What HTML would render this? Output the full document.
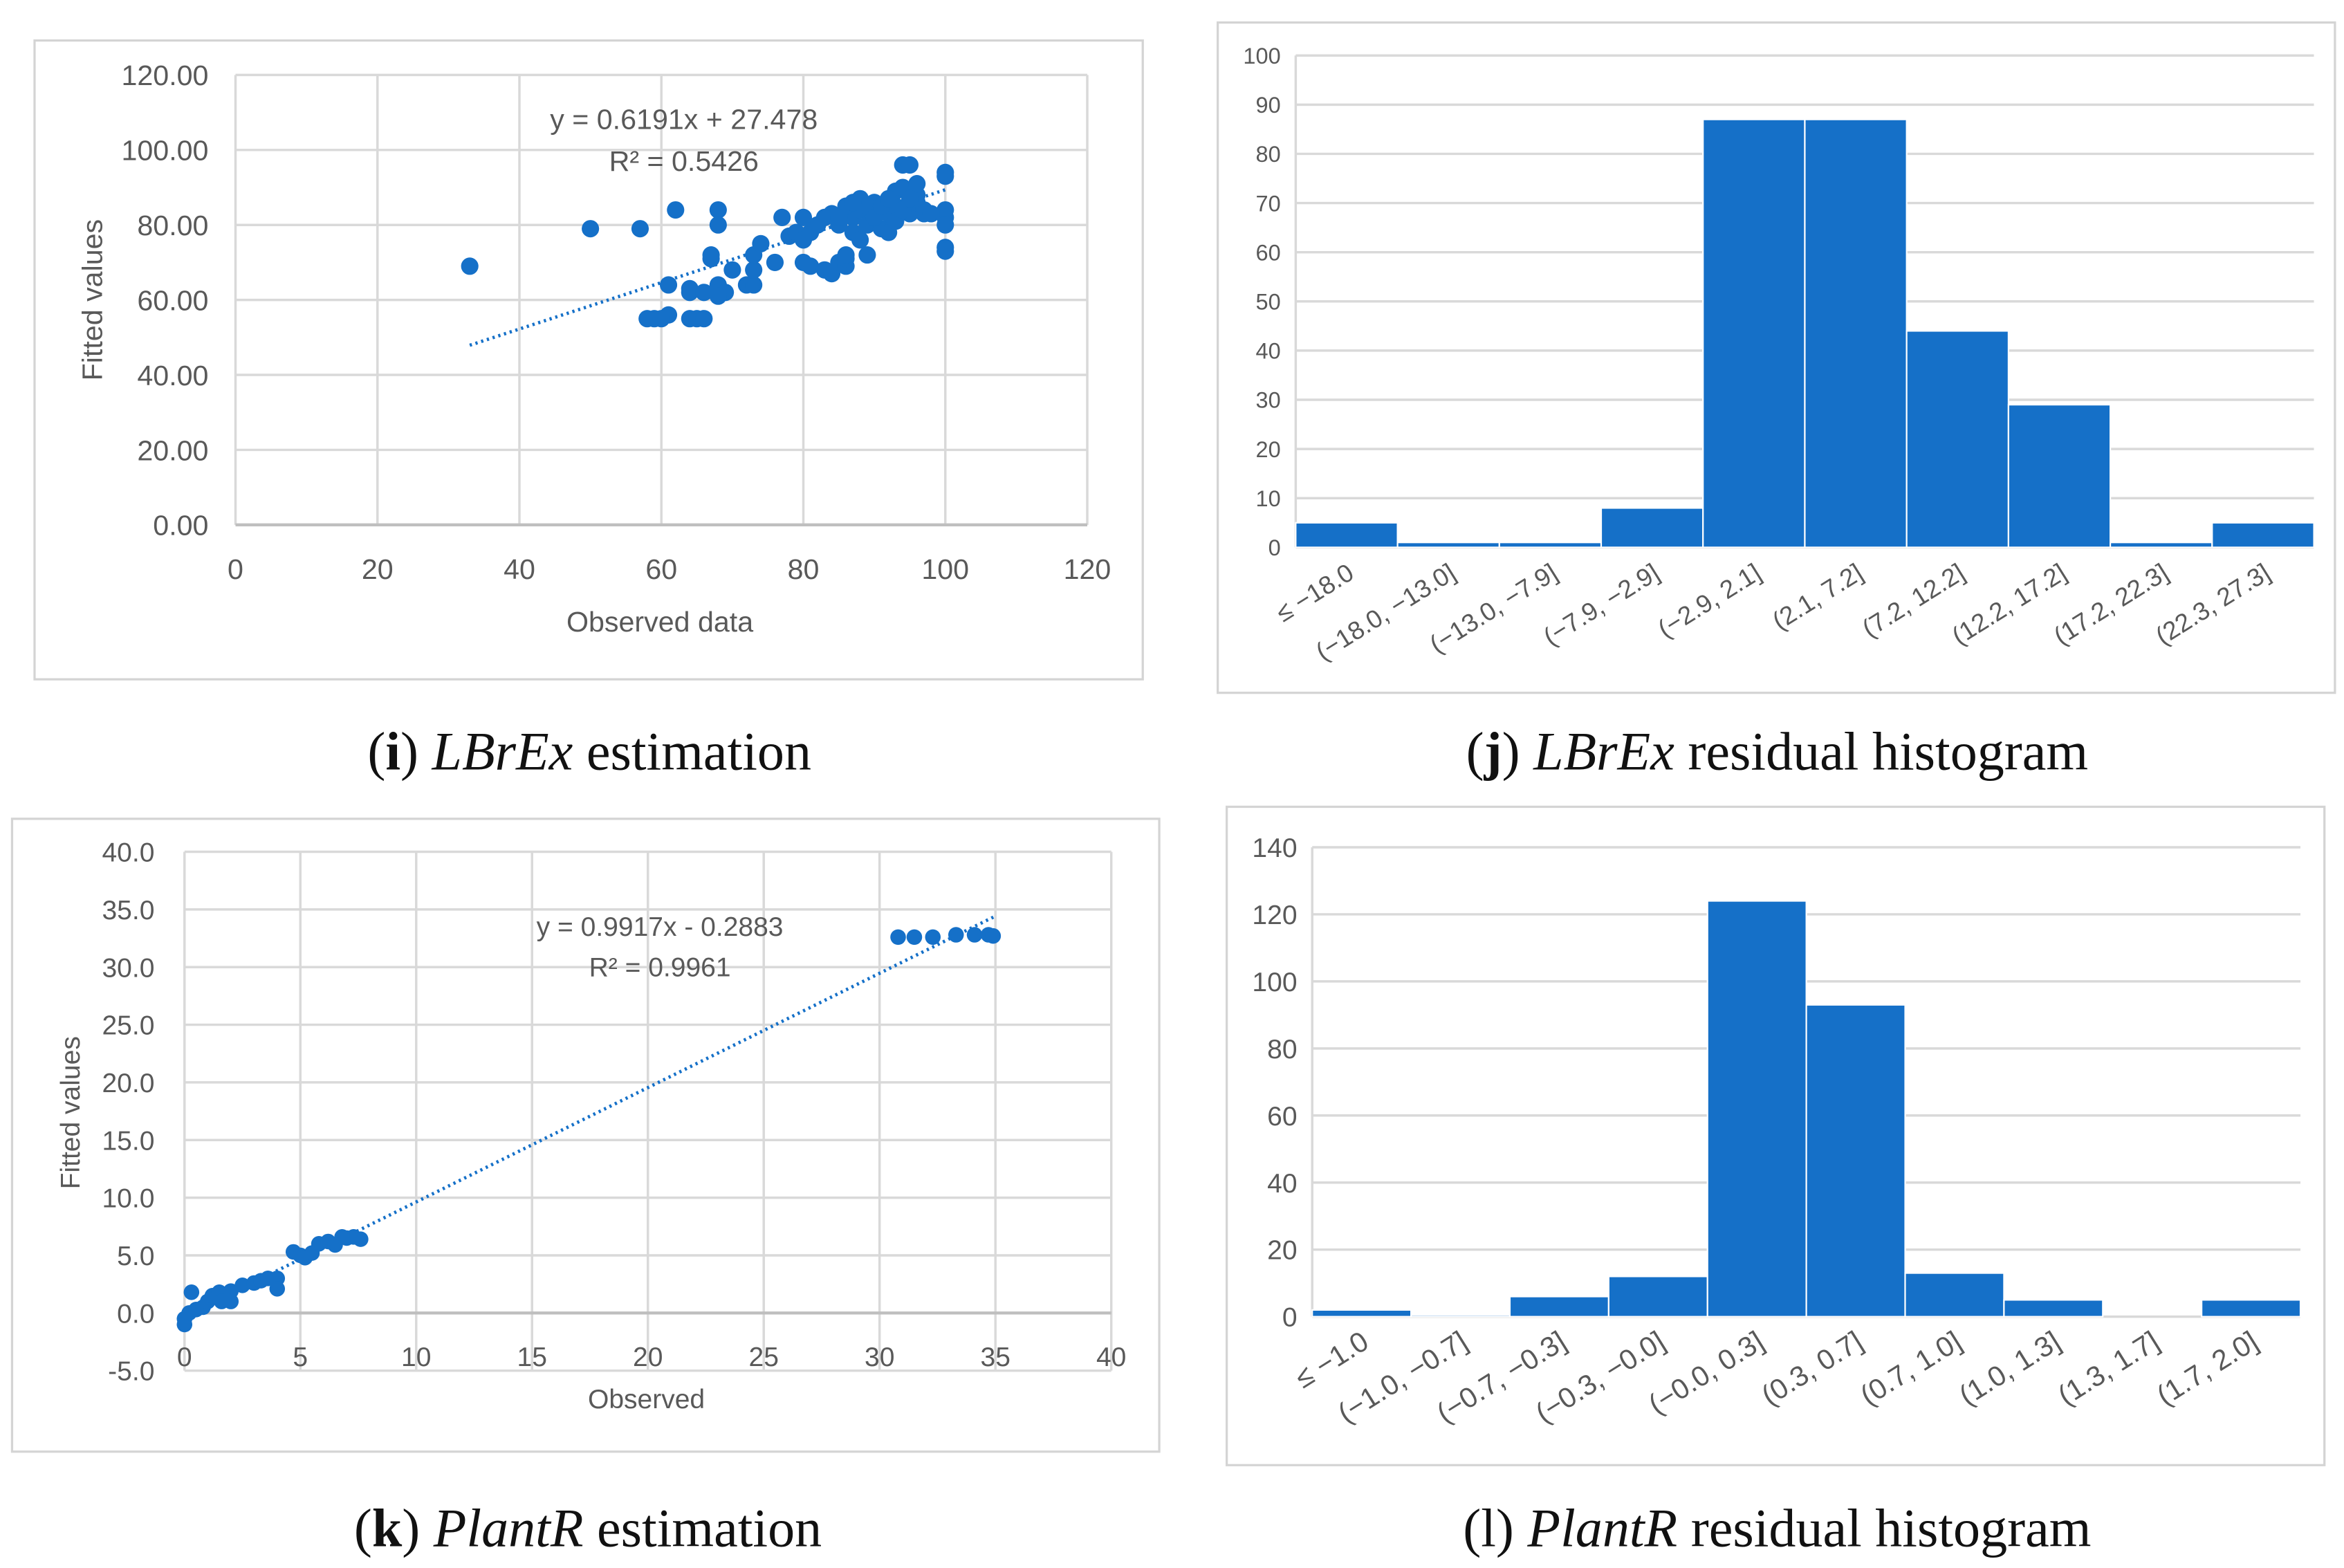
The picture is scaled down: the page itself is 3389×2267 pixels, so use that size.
<!DOCTYPE html>
<html><head><meta charset="utf-8">
<style>
html,body{margin:0;padding:0;background:#fff;}
svg{display:block;}
.tick{font-family:"Liberation Sans Narrow","Liberation Sans",sans-serif;fill:#595959;}
.cap{font-family:"Liberation Serif",serif;fill:#111;}
</style></head>
<body>
<svg id="fig" width="3389" height="2267" viewBox="0 0 1563 1045.6" xmlns="http://www.w3.org/2000/svg">
<g id="pi"></g>
<g id="pj"></g>
<g id="pk"></g>
<g id="pl"></g>
</svg>
<script>
// ---- data ----
const iObs = [33,50,57,62,68,68,61,61,58,59,60,64,65,66,64,64,66,67,67,68,69,68,70,72,73,73,73,74,76,77,78,79,80,80,81,82,80,81,83,84,85,86,86,86,87,88,88,89,89,90,90,91,92,92,93,93,94,94,95,95,96,96,96,97,97,100,100,100,100,100,100,100,84,85,86,87,88,89,90,91,92,93,94,95,98,83,85,87];
const iFit = [69,79,79,84,84,80,64,56,55,55,55,55,55,55,63,62,62,71,72,64,62,61,68,64,64,68,72,75,70,82,77,78,76,82,78,80,70,69,68,67,70,69,71,72,82,84,87,72,80,84,86,79,78,83,85,89,90,96,96,83,88,91,86,84,83,94,93,84,82,80,74,73,83,80,85,78,76,85,82,85,87,81,84,87,83,82,82,86];
const iSlope = 0.6191, iIntercept = 27.478;
const iXTicks = ["0","20","40","60","80","100","120"];
const iYTicks = ["0.00","20.00","40.00","60.00","80.00","100.00","120.00"];

const jCats = ["≤ −18.0","(−18.0, −13.0]","(−13.0, −7.9]","(−7.9, −2.9]","(−2.9, 2.1]","(2.1, 7.2]","(7.2, 12.2]","(12.2, 17.2]","(17.2, 22.3]","(22.3, 27.3]"];
const jCounts = [5,1,1,8,87,87,44,29,1,5];
const jYTicks = [0,10,20,30,40,50,60,70,80,90,100];

const kObs = [0,0,0.2,0.3,0.5,0.8,1,1.2,1.5,1.6,2,2,2.5,3,3.3,3.6,4,4,4.7,5,5.2,5.5,5.8,6.2,6.5,7,7.3,7.6,6.8,30.8,31.5,32.3,33.3,34.1,34.7,34.9];
const kFit = [-0.5,-1,0,1.8,0.3,0.5,1,1.5,1.8,1,1.9,1,2.4,2.6,2.8,3,3,2.1,5.3,5,4.8,5.2,6,6.2,5.9,6.5,6.6,6.4,6.6,32.6,32.6,32.6,32.8,32.8,32.8,32.7];
const kSlope = 0.9917, kIntercept = -0.2883;
const kXTicks = ["0","5","10","15","20","25","30","35","40"];
const kYTicks = ["-5.0","0.0","5.0","10.0","15.0","20.0","25.0","30.0","35.0","40.0"];

const lCats = ["≤ −1.0","(−1.0, −0.7]","(−0.7, −0.3]","(−0.3, −0.0]","(−0.0, 0.3]","(0.3, 0.7]","(0.7, 1.0]","(1.0, 1.3]","(1.3, 1.7]","(1.7, 2.0]"];
const lCounts = [2,0.5,6,12,124,93,13,5,0,5];
const lYTicks = [0,20,40,60,80,100,120,140];

const NS="http://www.w3.org/2000/svg";
function mk(parent,tag,attrs,text){const e=document.createElementNS(NS,tag);for(const k in attrs)e.setAttribute(k,attrs[k]);if(text!==undefined)e.textContent=text;parent.appendChild(e);return e;}
const BLUE="#1570C8", GRID="#d9d9d9";

function frame(g,x1,y1,x2,y2){
  const r=mk(g,'rect',{x:x1,y:y1,width:x2-x1,height:y2-y1,fill:'#fff',stroke:'#d4d4d4','stroke-width':1.5});
  
  
}
function caption(g,cx,cy,letter,bold,name,rest){
  const t=mk(g,'text',{x:cx,y:cy,'text-anchor':'middle','font-size':36,class:'cap'});
  
  
  mk(t,'tspan',{},'(');
  mk(t,'tspan',{'font-weight':bold?'bold':'normal'},letter);
  mk(t,'tspan',{},') ');
  mk(t,'tspan',{'font-style':'italic'},name);
  mk(t,'tspan',{},' '+rest);
}

function scatter(g,cfg){
  const {x0,x1,y0,y1,xmin,xmax,ymin,ymax,xs,ys,xt,yt,slope,icpt,tx0,tx1,fs,r} = cfg;
  const X=v=>x0+(v-xmin)/(xmax-xmin)*(x1-x0);
  const Y=v=>y0-(v-ymin)/(ymax-ymin)*(y0-y1);
  const xstep=(xmax-xmin)/(xt.length-1), ystep=(ymax-ymin)/(yt.length-1);
  yt.forEach((lab,i)=>{const v=ymin+i*ystep;
    const l=mk(g,'line',{x1:x0,x2:x1,y1:Y(v),y2:Y(v),stroke:GRID,'stroke-width':1.6});
    
    
    const t=mk(g,'text',{x:x0-cfg.ylabGap,y:Y(v)+fs*0.36,'text-anchor':'end','font-size':fs,class:'tick'},lab);
    
    
  });
  xt.forEach((lab,i)=>{const v=xmin+i*xstep;
    const l=mk(g,'line',{x1:X(v),x2:X(v),y1:y0,y2:y1,stroke:GRID,'stroke-width':1.6});
    
    
    const t=mk(g,'text',{x:X(v),y:cfg.xlabY,'text-anchor':'middle','font-size':fs,class:'tick'},lab);
    
    
  });
  const ax=mk(g,'line',{x1:x0,x2:x1,y1:Y(cfg.axisAt),y2:Y(cfg.axisAt),stroke:'#bfbfbf','stroke-width':2});
  
  
  const tl=mk(g,'line',{x1:X(tx0),y1:Y(slope*tx0+icpt),x2:X(tx1),y2:Y(slope*tx1+icpt),stroke:BLUE,'stroke-width':2.2,'stroke-dasharray':'1.5,2.5'});
  
  
  xs.forEach((v,i)=>{
    const c=mk(g,'circle',{cx:X(v),cy:Y(ys[i]),r:r,fill:BLUE});
    
    
  });
}

function hist(g,cfg){
  const {x0,x1,y0,y1,ymax,cats,vals,yt,fs,cfs}=cfg;
  const Y=v=>y0-v/ymax*(y0-y1);
  const bw=(x1-x0)/cats.length;
  yt.forEach(v=>{
    const l=mk(g,'line',{x1:x0,x2:x1,y1:Y(v),y2:Y(v),stroke:GRID,'stroke-width':1.6});
    
    
    const t=mk(g,'text',{x:x0-10,y:Y(v)+fs*0.36,'text-anchor':'end','font-size':fs,class:'tick'},String(v));
    
    
  });
  const ya=mk(g,'line',{x1:x0,x2:x0,y1:y0,y2:y1,stroke:GRID,'stroke-width':1.6});
  
  
  vals.forEach((v,i)=>{
    const b=mk(g,'rect',{x:x0+i*bw,y:Y(v),width:bw,height:y0-Y(v),fill:BLUE,stroke:'#fff','stroke-width':1});
    
    
  });
  cats.forEach((c,i)=>{
    const cx=x0+(i+0.5)*bw+6, cy=y0+20;
    const t=mk(g,'text',{x:cx,y:cy,'text-anchor':'end','font-size':cfs,class:'tick',transform:`rotate(-32 ${cx} ${cy})`},c);
    
    
  });
}

// Panel i
const gi=document.getElementById('pi');
frame(gi,23,27,762,453);
scatter(gi,{x0:157,x1:725,y0:350,y1:50,xmin:0,xmax:120,ymin:0,ymax:120,xs:iObs,ys:iFit,xt:iXTicks,yt:iYTicks,slope:iSlope,icpt:iIntercept,tx0:33,tx1:100,fs:19,r:5.8,ylabGap:18,xlabY:386,axisAt:0});
let t;
t=mk(gi,'text',{x:456,y:86,'text-anchor':'middle','font-size':19,class:'tick'},'y = 0.6191x + 27.478');
t=mk(gi,'text',{x:456,y:114,'text-anchor':'middle','font-size':19,class:'tick'},'R² = 0.5426');
t=mk(gi,'text',{x:440,y:421,'text-anchor':'middle','font-size':19,class:'tick'},'Observed data');
t=mk(gi,'text',{x:68,y:200,'text-anchor':'middle','font-size':19,class:'tick',transform:'rotate(-90 68 200)'},'Fitted values');
caption(gi,393,513,'i',true,'LBrEx','estimation');

// Panel j
const gj=document.getElementById('pj');
frame(gj,812,15,1557,462);
hist(gj,{x0:864,x1:1543,y0:365,y1:37,ymax:100,cats:jCats,vals:jCounts,yt:jYTicks,fs:15,cfs:17});
caption(gj,1185,513,'j',true,'LBrEx','residual histogram');

// Panel k
const gk=document.getElementById('pk');
frame(gk,8,546,773,968);
scatter(gk,{x0:123,x1:741,y0:914,y1:568,xmin:0,xmax:40,ymin:-5,ymax:40,xs:kObs,ys:kFit,xt:kXTicks,yt:kYTicks,slope:kSlope,icpt:kIntercept,tx0:0,tx1:35,fs:18,r:5.2,ylabGap:20,xlabY:911,axisAt:0});
t=mk(gk,'text',{x:440,y:624,'text-anchor':'middle','font-size':18,class:'tick'},'y = 0.9917x - 0.2883');
t=mk(gk,'text',{x:440,y:651,'text-anchor':'middle','font-size':18,class:'tick'},'R² = 0.9961');
t=mk(gk,'text',{x:431,y:939,'text-anchor':'middle','font-size':18,class:'tick'},'Observed');
t=mk(gk,'text',{x:53,y:742,'text-anchor':'middle','font-size':18,class:'tick',transform:'rotate(-90 53 742)'},'Fitted values');
caption(gk,392,1031,'k',true,'PlantR','estimation');

// Panel l
const gl=document.getElementById('pl');
frame(gl,818,538,1550,977);
hist(gl,{x0:875,x1:1534,y0:878,y1:565,ymax:140,cats:lCats,vals:lCounts,yt:lYTicks,fs:18,cfs:19});
caption(gl,1185,1031,'l',false,'PlantR','residual histogram');
</script>
</body></html>
